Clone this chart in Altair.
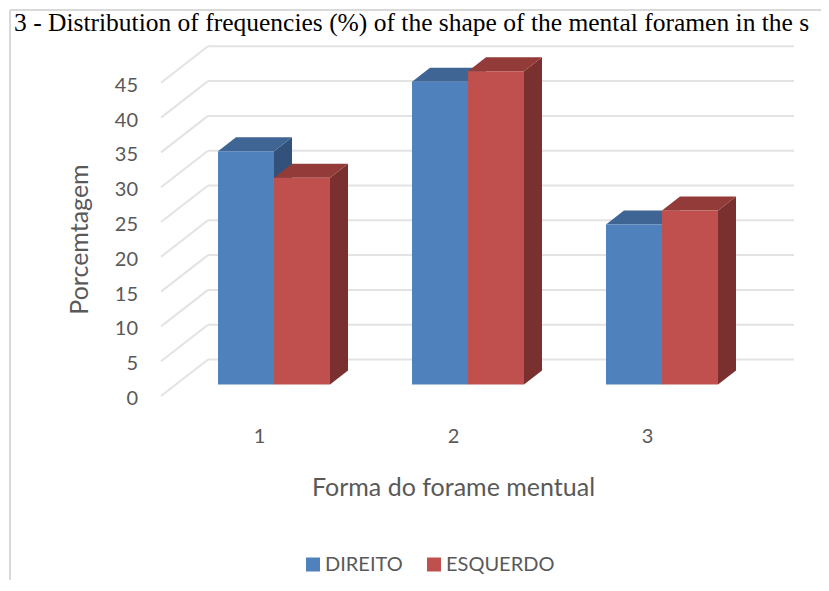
import altair as alt
import pandas as pd

categories = [1, 2, 3]
direito = [33.5, 43.5, 23.0]
esquerdo = [29.7, 45.0, 25.0]
y_ticks = [0, 5, 10, 15, 20, 25, 30, 35, 40, 45]
series_names = ["DIREITO", "ESQUERDO"]
front_colors = ["#4f81bd", "#c0504d"]
top_colors = ["#3e6593", "#933b38"]
side_colors = ["#32527c", "#7a302e"]
caption = "3 - Distribution of frequencies (%) of the shape of the mental foramen in the s"
x_title = "Forma do forame mentual"
y_title = "Porcemtagem"

PX_X = 194.0          # pixels per category
PX_Y = 6.96           # pixels per percent
PLOT_W, PLOT_H = 633, 350
x_dom = [1 - 98 / PX_X, 1 - 98 / PX_X + PLOT_W / PX_X]
y_dom = [0, PLOT_H / PX_Y]
x_scale = alt.Scale(domain=x_dom, nice=False, zero=False)
y_scale = alt.Scale(domain=y_dom, nice=False, zero=False)

# depth of the fake 3-D box, in data units
gap_x, gap_y = 15 / PX_X, 11.5 / PX_Y
depth_x, depth_y = 18 / PX_X, 14 / PX_Y
wall_x, wall_y = 47 / PX_X, 36.5 / PX_Y
bar_w = 56 / PX_X

font = "Lato"
grey = "#595959"
X = alt.X("x:Q", scale=x_scale, title=x_title)
Y = alt.Y("y:Q", scale=y_scale, title=y_title)

# real axes, on an otherwise invisible layer (first, so its axes win)
axes = alt.Chart(pd.DataFrame({"x": categories, "y": [0, 0, 0]})).mark_point(opacity=0).encode(
    x=alt.X("x:Q", scale=x_scale, title=x_title, axis=alt.Axis(
        values=categories, format="d", domain=False, ticks=False, grid=False,
        labelFont=font, labelFontSize=20, labelColor=grey, labelPadding=30,
        titleFont=font, titleFontSize=25, titleColor=grey, titleFontWeight="normal",
        titleX=292, titleY=91, titleAlign="center", titleBaseline="middle")),
    y=alt.Y("y:Q", scale=y_scale, title=y_title, axis=alt.Axis(
        values=y_ticks, domain=False, ticks=False, grid=False, labels=False,
        titleFont=font, titleFontSize=25, titleColor=grey, titleFontWeight="normal",
        titleX=-82, titleY=193, titleAlign="center", titleBaseline="middle")),
)

# value labels of the front plane, every one of them
tick_labels = alt.Chart(pd.DataFrame({"y": y_ticks})).mark_text(
    font=font, fontSize=20, color=grey, align="right", baseline="middle", dy=3).encode(
    x=alt.value(-23), y=Y, text=alt.Text("y:Q", format="d"))

# back wall grid
wall = pd.DataFrame({"y": [t + wall_y for t in y_ticks], "x": x_dom[0] + wall_x, "x2": x_dom[1]})
wall_rules = alt.Chart(wall).mark_rule(color="#e3e3e3", strokeWidth=2).encode(x=X, x2="x2:Q", y=Y)
floor_rows = []
for t in y_ticks:
    floor_rows.append({"t": t, "x": x_dom[0], "y": t})
    floor_rows.append({"t": t, "x": x_dom[0] + wall_x, "y": t + wall_y})
floor_lines = alt.Chart(pd.DataFrame(floor_rows)).mark_line(color="#e3e3e3", strokeWidth=2).encode(x=X, y=Y, detail="t:N")

layers = [axes, tick_labels, wall_rules, floor_lines]
for s, (name, vals) in enumerate(zip(series_names, [direito, esquerdo])):
    front, tops, sides = [], [], []
    for c, v in zip(categories, vals):
        left = c + gap_x - bar_w + s * bar_w
        right = left + bar_w
        base = gap_y
        top = v + gap_y
        front.append({"series": name, "x": left, "x2": right, "y": base, "y2": top})
        sides.append({"c": c, "x": right, "y": base, "y2": top})
        sides.append({"c": c, "x": right + depth_x, "y": base + depth_y, "y2": top + depth_y})
        tops.append({"c": c, "y": top, "x": left, "x2": right})
        tops.append({"c": c, "y": top + depth_y, "x": left + depth_x, "x2": right + depth_x})
    layers.append(alt.Chart(pd.DataFrame(sides)).mark_area(color=side_colors[s], orient="vertical").encode(
        x=X, y=Y, y2="y2:Q", detail="c:N"))
    layers.append(alt.Chart(pd.DataFrame(tops)).mark_area(color=top_colors[s], orient="horizontal").encode(
        y=Y, x=X, x2="x2:Q", detail="c:N"))
    layers.append(alt.Chart(pd.DataFrame(front)).mark_rect().encode(
        x=X, x2="x2:Q", y=Y, y2="y2:Q",
        color=alt.Color("series:N", scale=alt.Scale(domain=series_names, range=front_colors),
                        legend=alt.Legend(orient="none", legendX=142, legendY=508.5, direction="horizontal",
                                          title=None, symbolType="square", symbolSize=196, symbolStrokeWidth=0,
                                          labelFont=font, labelFontSize=20, labelColor=grey,
                                          columnPadding=21, labelOffset=2))))

# picture furniture: frame, and the caption moved just inside it so it can be read
frame_top = alt.Chart(pd.DataFrame({"a": [0]})).mark_rule(color="#d9d9d9", strokeWidth=2).encode(
    x=alt.value(-151), x2=alt.value(668), y=alt.value(-36))
frame_left = alt.Chart(pd.DataFrame({"a": [0]})).mark_rule(color="#d9d9d9", strokeWidth=2).encode(
    x=alt.value(-151), y=alt.value(-36), y2=alt.value(546))
cap = alt.Chart(pd.DataFrame({"t": [caption]})).mark_text(
    font="Liberation Serif", fontSize=25.5, color="#000000", align="left", baseline="alphabetic").encode(
    x=alt.value(-147), y=alt.value(-15), text="t:N")
layers += [frame_top, frame_left, cap]

chart = alt.layer(*layers).properties(
    width=PLOT_W, height=PLOT_H,
    padding={"left": 153, "top": 38, "right": 27, "bottom": 183.5},
    autosize=alt.AutoSizeParams(type="none"),
    background="#ffffff",
).configure_view(stroke=None)

chart.save("out.html", embed_options={"renderer": "svg", "actions": False})
